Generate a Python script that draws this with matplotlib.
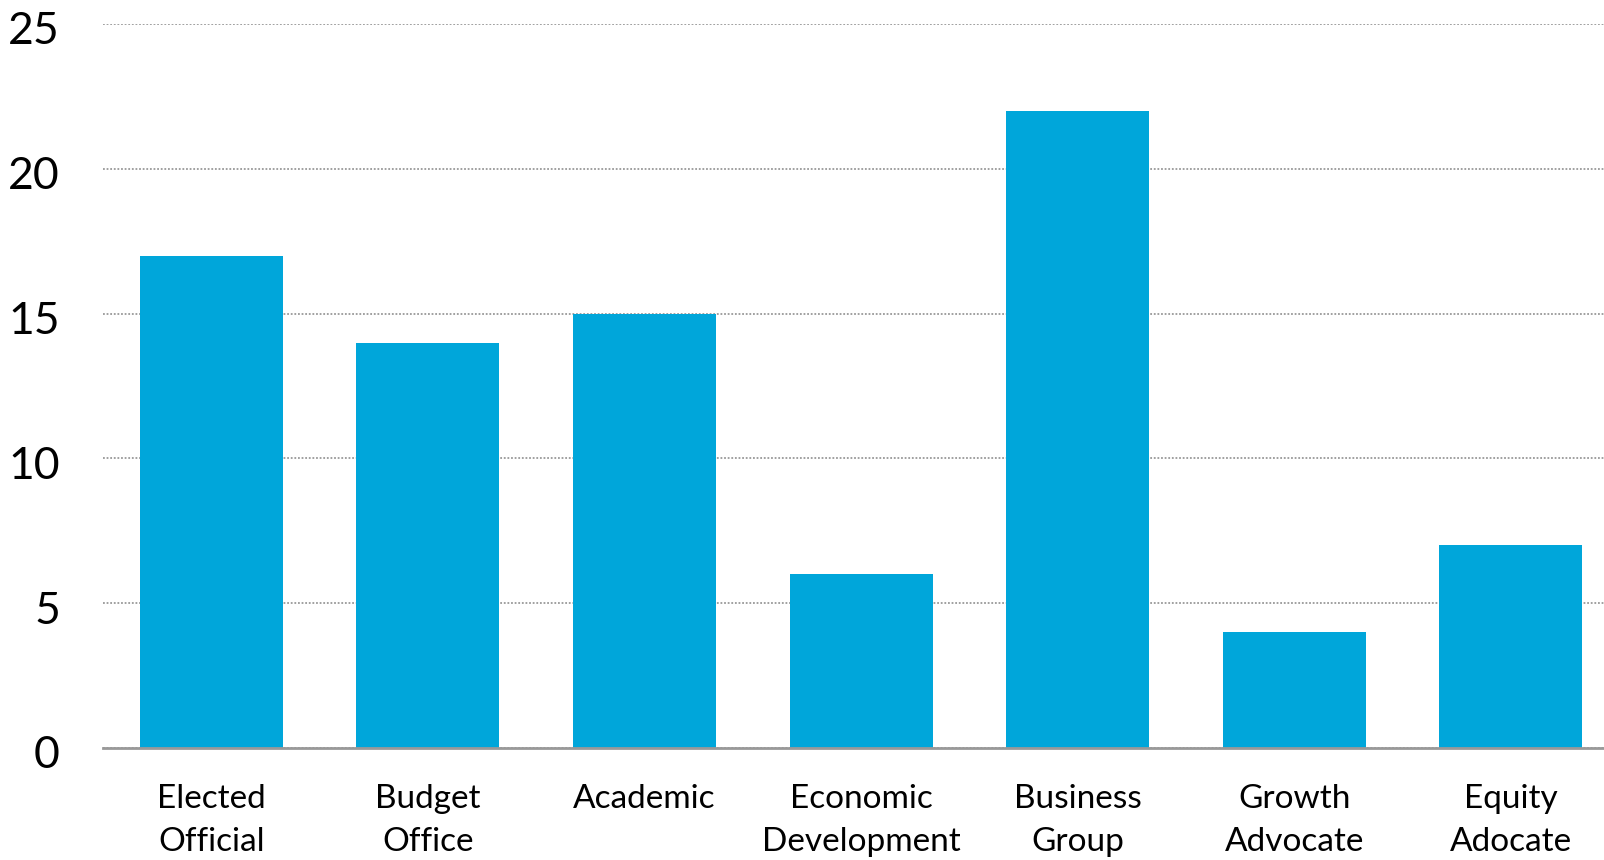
import numpy as np
import matplotlib
matplotlib.use('Agg')
import matplotlib.pyplot as plt
import matplotlib.transforms as mtransforms

# data
categories = ['Elected\nOfficial', 'Budget\nOffice', 'Academic', 'Economic\nDevelopment',
              'Business\nGroup', 'Growth\nAdvocate', 'Equity\nAdocate']
counts = [17, 14, 15, 6, 22, 4, 7]
yticks = [0, 5, 10, 15, 20, 25]

plt.rcParams['font.family'] = ['Lato', 'DejaVu Sans']

fig = plt.figure(figsize=(16.04, 8.6), dpi=100)
ax = fig.add_axes([103/1604, 112/860, 1 - 103/1604, 724/860])

x = np.arange(len(categories))
ax.bar(x, counts, width=0.66, color='#00A6DA', zorder=2)

ax.set_ylim(0, 25)
ax.set_xlim(-0.5, 6.43)
ax.set_yticks(yticks)
ax.set_xticks(x)
ax.set_xticklabels(categories, fontsize=24, linespacing=1.55)
ax.tick_params(axis='y', labelsize=32, length=0, pad=31)
ax.tick_params(axis='x', length=0, pad=26)

# nudge y labels down a little
shift = mtransforms.ScaledTranslation(0, -4/100, fig.dpi_scale_trans)
for lab in ax.get_yticklabels():
    lab.set_transform(lab.get_transform() + shift)

ax.yaxis.grid(True, linestyle=(0, (1, 1)), color='#999999', linewidth=1.3, zorder=0)
for s in ['top', 'right', 'left']:
    ax.spines[s].set_visible(False)
ax.spines['bottom'].set_color('#999999')
ax.spines['bottom'].set_linewidth(2)
ax.spines['bottom'].set_zorder(3)

fig.savefig('out.png', dpi=100)
